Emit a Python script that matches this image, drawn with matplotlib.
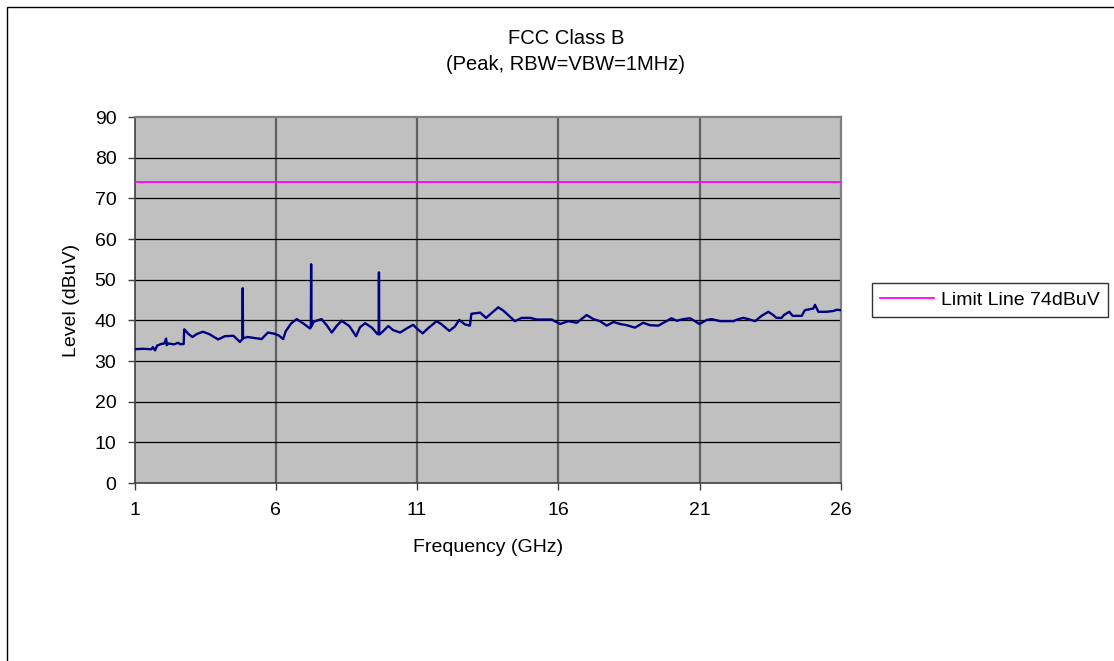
import matplotlib
matplotlib.use("Agg")
import matplotlib.pyplot as plt
from matplotlib.patches import Rectangle
from matplotlib.lines import Line2D

plt.rcParams['font.family'] = ['Liberation Sans', 'DejaVu Sans']

# Measured peak emission trace (GHz, dBuV)
freq_ghz = [
    1.00, 1.30, 1.60, 1.65, 1.73, 1.80, 1.95, 2.05, 2.12, 2.14, 2.20, 2.40, 2.55, 2.62,
    2.74, 2.76, 2.90, 3.05, 3.20, 3.42, 3.65, 3.96, 4.20, 4.50, 4.73, 4.82, 4.83, 4.84,
    5.00, 5.30, 5.50, 5.65, 5.72, 5.95, 6.10, 6.26, 6.35, 6.55, 6.74, 6.98, 7.21, 7.24,
    7.25, 7.26, 7.35, 7.62, 7.80, 7.98, 8.15, 8.33, 8.60, 8.84, 8.98, 9.16, 9.40, 9.60,
    9.64, 9.65, 9.66, 9.75, 9.98, 10.15, 10.40, 10.63, 10.86, 11.02, 11.20, 11.38, 11.69,
    11.87, 12.14, 12.34, 12.49, 12.69, 12.87, 12.92, 13.23, 13.44, 13.64, 13.87, 14.05,
    14.46, 14.70, 15.00, 15.24, 15.48, 15.76, 16.06, 16.35, 16.65, 17.00, 17.24, 17.47,
    17.71, 17.95, 18.18, 18.42, 18.71, 19.00, 19.24, 19.54, 19.77, 20.00, 20.19, 20.42,
    20.66, 20.83, 20.99, 21.25, 21.42, 21.72, 22.19, 22.37, 22.54, 22.72, 22.96, 23.19,
    23.43, 23.60, 23.72, 23.90, 23.98, 24.17, 24.29, 24.61, 24.72, 25.02, 25.08, 25.20,
    25.49, 25.73, 25.85, 26.00,
]
level_dbuv = [
    32.9, 33.0, 32.9, 33.4, 32.6, 33.8, 34.2, 34.3, 35.5, 33.9, 34.3, 34.1, 34.5, 34.1,
    34.2, 37.8, 36.7, 35.9, 36.6, 37.2, 36.6, 35.3, 36.1, 36.2, 34.7, 35.4, 47.9, 35.6,
    35.9, 35.6, 35.4, 36.5, 37.0, 36.7, 36.3, 35.4, 37.3, 39.3, 40.3, 39.2, 38.0, 38.3,
    53.8, 38.5, 39.7, 40.3, 38.8, 37.0, 38.6, 39.9, 38.6, 36.1, 38.3, 39.3, 38.2, 36.6,
    36.8, 51.8, 36.5, 37.0, 38.6, 37.6, 37.0, 38.0, 38.9, 37.8, 36.8, 38.0, 39.8,
    39.0, 37.4, 38.5, 40.1, 39.0, 38.7, 41.6, 41.9, 40.6, 41.8, 43.2, 42.4,
    39.8, 40.6, 40.6, 40.2, 40.2, 40.2, 39.1, 39.8, 39.4, 41.3, 40.3, 39.8,
    38.7, 39.6, 39.1, 38.8, 38.2, 39.4, 38.8, 38.7, 39.6, 40.5, 39.9, 40.3,
    40.5, 39.8, 39.1, 40.1, 40.3, 39.8, 39.8, 40.3, 40.6, 40.3, 39.8, 41.1,
    42.1, 41.3, 40.6, 40.6, 41.3, 42.1, 41.1, 41.1, 42.5, 42.9, 43.8, 42.1,
    42.1, 42.3, 42.6, 42.5,
]

limit_dbuv = 74
limit_label = "Limit Line 74dBuV"
x_ticks = [1, 6, 11, 16, 21, 26]
y_ticks = [0, 10, 20, 30, 40, 50, 60, 70, 80, 90]

W, H = 1114, 661
fig = plt.figure(figsize=(W / 100, H / 100), dpi=100)
fig.patch.set_facecolor("white")

# outer chart border (runs off the right and bottom edges)
fig.patches.append(Rectangle((7 / W, -0.1), 1.2, (H - 7) / H + 0.1,
                             transform=fig.transFigure, fill=False,
                             edgecolor="black", linewidth=1.0))

left, right, top, bottom = 134.5, 841, 117, 483
ax = fig.add_axes([left / W, (H - bottom) / H, (right - left) / W, (bottom - top) / H])
ax.set_facecolor("#C0C0C0")

ax.set_xlim(1, 26)
ax.set_ylim(0, 90)
ax.set_xticks(x_ticks)
ax.set_yticks(y_ticks)

for v in x_ticks[1:-1]:
    ax.axvline(v, color="#606060", linewidth=1.6, zorder=1)
for v in y_ticks[1:-1]:
    ax.axhline(v, color="black", linewidth=0.9, zorder=1)

ax.plot(freq_ghz, level_dbuv, color="#000080", linewidth=1.7, zorder=3)
ax.axhline(limit_dbuv, color="#FF00FF", linewidth=1.3, zorder=3)

for side in ("top", "right"):
    ax.spines[side].set_color("#808080")
    ax.spines[side].set_linewidth(1.6)
for side in ("left", "bottom"):
    ax.spines[side].set_color("#404040")
    ax.spines[side].set_linewidth(1.2)

ax.tick_params(axis="both", direction="out", length=5, width=1, color="#404040",
               labelsize=14)
ax.tick_params(axis="x", pad=9)
ax.tick_params(axis="y", pad=8)

fig.text(566 / W, 1 - 39 / H, "FCC Class B", ha="center", va="center", fontsize=14.5)
fig.text(566 / W, 1 - 65 / H, "(Peak, RBW=VBW=1MHz)", ha="center", va="center",
         fontsize=14.5)
fig.text((left + right) / 2 / W, 1 - 547 / H, "Frequency (GHz)", ha="center",
         va="center", fontsize=14)
fig.text(72 / W, 1 - 300 / H, "Level (dBuV)", ha="center", va="center", rotation=90,
         fontsize=14)

handle = Line2D([], [], color="#FF00FF", linewidth=1.3)
leg = fig.legend([handle], [limit_label], loc="center left",
                 bbox_to_anchor=(872 / W, 1 - 300 / H), fontsize=14,
                 frameon=True, fancybox=False, handlelength=2.8, handletextpad=0.36,
                 borderpad=0.4, borderaxespad=0)
leg.get_frame().set_edgecolor("black")
leg.get_frame().set_linewidth(1.0)

fig.savefig("out.png", dpi=100)
